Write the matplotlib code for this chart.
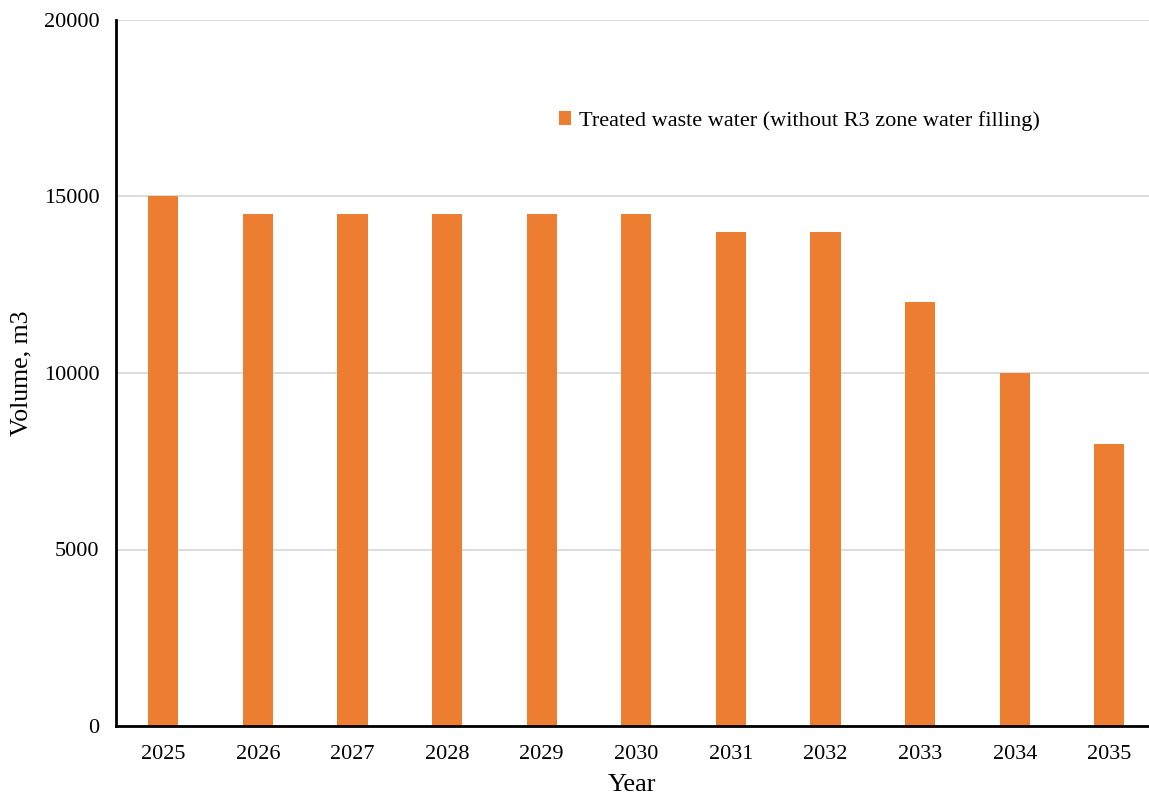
import matplotlib
matplotlib.use("Agg")
import matplotlib.pyplot as plt
from matplotlib.patches import Patch

years = ["2025", "2026", "2027", "2028", "2029", "2030", "2031", "2032", "2033", "2034", "2035"]
volumes = [15000, 14500, 14500, 14500, 14500, 14500, 14000, 14000, 12000, 10000, 8000]
series_name = "Treated waste water (without R3 zone water filling)"

plt.rcParams['font.family'] = ['Liberation Serif', 'DejaVu Serif']

W, H = 1149, 799
fig = plt.figure(figsize=(W / 100, H / 100), dpi=100)
ax = fig.add_axes([116 / W, (H - 726) / H, (1149 - 116) / W, (726 - 20) / H])

x = list(range(len(years)))
ax.bar(x, volumes, width=0.32, color="#ED7D31", zorder=3)

ax.set_ylim(0, 20000)
ax.set_yticks([0, 5000, 10000, 15000, 20000])
ax.set_xlim(-0.5, -0.5 + 1033 / 94.6)
ax.set_xticks(x)
ax.set_xticklabels(years)

ax.grid(axis="y", color="#D9D9D9", linewidth=1.3, zorder=0)
ax.tick_params(axis="both", length=0, labelsize=16, colors="black")
ax.tick_params(axis="x", pad=14)
ax.tick_params(axis="y", pad=12)
for s in ["top", "right"]:
    ax.spines[s].set_visible(False)
for s in ["left", "bottom"]:
    ax.spines[s].set_linewidth(2)
    ax.spines[s].set_color("black")
    ax.spines[s].set_zorder(4)

ax.set_xlabel("Year", fontsize=19, labelpad=7)
ax.set_ylabel("Volume, m3", fontsize=18.5, labelpad=8)

handle = Patch(facecolor="#ED7D31", edgecolor="none")
ax.legend([handle], [series_name], loc="center left", bbox_to_anchor=(0.429, 0.857),
          frameon=False, fontsize=16, handlelength=0.55, handleheight=0.55,
          handletextpad=0.35, borderaxespad=0, borderpad=0)

fig.savefig("out.png", dpi=100)
